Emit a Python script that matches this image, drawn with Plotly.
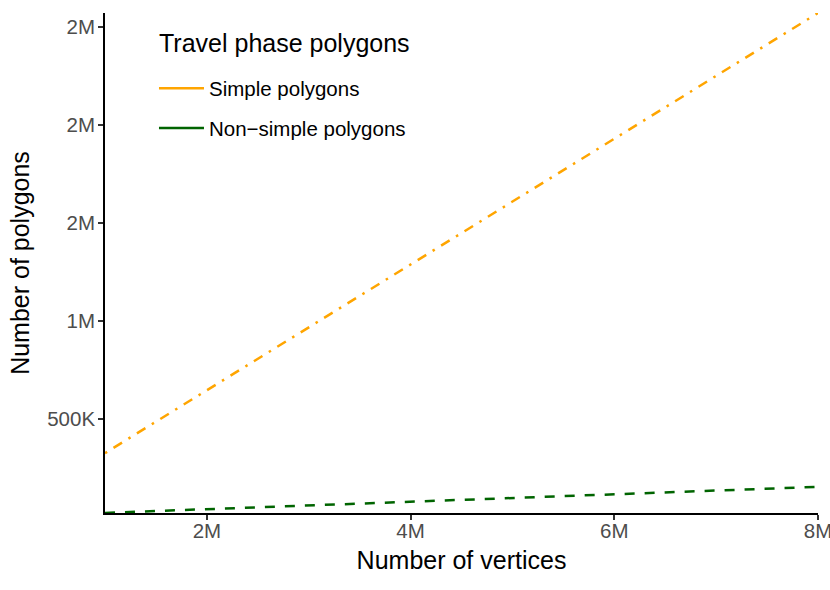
import plotly.graph_objects as go

# Data
vertices = [1e6, 2e6, 3e6, 4e6, 5e6, 6e6, 7e6, 8e6]
simple_polygons = [326e3, 647e3, 968e3, 1289e3, 1609e3, 1930e3, 2251e3, 2572e3]
nonsimple_polygons = [21e3, 40e3, 59e3, 78e3, 97e3, 116e3, 135e3, 154e3]

series_names = ["Simple polygons", "Non\u2212simple polygons"]
series_colors = ["#FFA500", "#006400"]
series_dashes = ["2.5px,7.5px,10px,7.5px", "10px,10px"]

x_tickvals = [2e6, 4e6, 6e6, 8e6]
x_ticktext = ["2M", "4M", "6M", "8M"]
y_tickvals = [5e5, 1e6, 1.5e6, 2e6, 2.5e6]
y_ticktext = ["500K", "1M", "2M", "2M", "2M"]

FONT = "Liberation Sans, Arial, Helvetica, sans-serif"

fig = go.Figure()
for name, ys, color, dash, grp in zip(series_names, [simple_polygons, nonsimple_polygons],
                                      series_colors, series_dashes, ["a", "b"]):
    fig.add_trace(go.Scatter(
        x=vertices, y=ys, mode="lines", name=name, showlegend=False,
        legendgroup=grp, line=dict(color=color, width=2.5, dash=dash),
    ))
    # legend key drawn solid, as in the reference
    fig.add_trace(go.Scatter(
        x=[None], y=[None], mode="lines", name=name, showlegend=True,
        legendgroup=grp, line=dict(color=color, width=2.5),
    ))

fig.update_layout(
    width=830, height=590,
    margin=dict(l=105, r=12, t=13, b=77),
    paper_bgcolor="white", plot_bgcolor="white",
    font=dict(family=FONT, color="black"),
    legend=dict(
        font=dict(size=20.5, color="black"),
        x=0.0687, y=0.889, xanchor="left", yanchor="top",
        bgcolor="rgba(0,0,0,0)", tracegroupgap=10,
        itemwidth=45,
    ),
    annotations=[dict(
        text="Travel phase polygons", xref="paper", yref="paper",
        x=(157 - 105) / 713, y=1 - (43 - 13) / 500, xanchor="left", yanchor="middle",
        showarrow=False, font=dict(size=25, color="black"),
    )],
    xaxis=dict(
        range=[1e6, 8e6], tickvals=x_tickvals, ticktext=x_ticktext,
        showgrid=False, zeroline=False, showline=True, linecolor="black", linewidth=1.6,
        ticks="outside", ticklen=5, tickwidth=1.5, tickcolor="#333333",
        tickfont=dict(size=20.5, color="#4d4d4d"), automargin=False,
        ticklabeloverflow="allow", ticklabelstandoff=-6,
        title=dict(text="Number of vertices", font=dict(size=25, color="black"), standoff=10),
    ),
    yaxis=dict(
        range=[20.5e3, 2572e3], tickvals=y_tickvals, ticktext=y_ticktext,
        showgrid=False, zeroline=False, showline=True, linecolor="black", linewidth=1.6,
        ticks="outside", ticklen=5, tickwidth=1.5, tickcolor="#333333",
        tickfont=dict(size=20.5, color="#4d4d4d"), automargin=False,
        ticklabeloverflow="allow", ticklabelstandoff=-1,
        title=dict(text="Number of polygons", font=dict(size=25, color="black"), standoff=10),
    ),
)

fig.write_html("out.html", config={"displayModeBar": False},
               post_script="document.body.style.margin='0';")
